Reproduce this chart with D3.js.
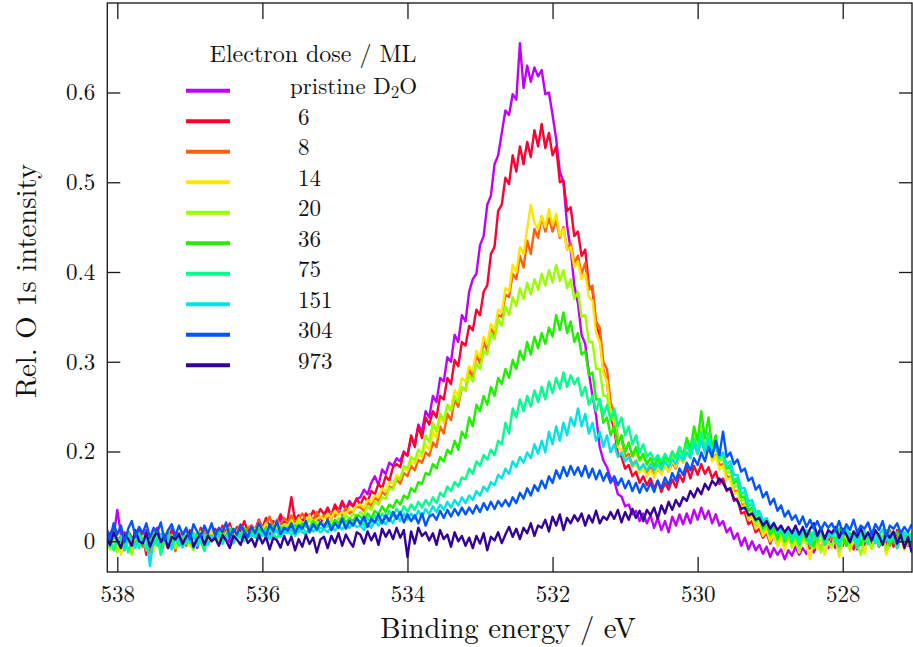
<!DOCTYPE html>
<html>
<head>
<meta charset="utf-8">
<script src="https://cdn.jsdelivr.net/npm/d3@7"></script>
<style>
  html, body { margin: 0; background: #fff; }
  svg { display: block; }
</style>
</head>
<body>
<svg id="chart" width="913" height="647"></svg>
<script>
// O 1s XPS spectra of D2O after increasing electron dose.
// Sampling grid: binding energy from eStart downward in steps of eStep (eV).
const eStart = 538.15, eStep = 0.05;

const doseLabels = ["pristine D2O", "6", "8", "14", "20", "36", "75", "151", "304", "973"];
const doseColors = ["#c000ff", "#ff0033", "#ff6010", "#ffe600", "#99ff00", "#1ff000", "#00ff8c", "#00e4e4", "#0055ff", "#330099"];
const xTicks = [538, 536, 534, 532, 530, 528];
const yTicks = [0, 0.2, 0.3, 0.4, 0.5, 0.6];

const pristine = [
  .020,.004,.012,.070,.015,-.006,.022,.010,-.010,.018,
  .005,.025,-.004,.012,.030,.000,.016,-.012,.020,.008,
  .014,-.008,.026,.006,.018,-.015,.010,.028,.002,.016,
  .022,.008,.030,.012,-.002,.025,.018,.035,.010,.028,
  .030,.018,.045,.022,.038,.015,.040,.028,.050,.025,
  .042,.030,.055,.038,.048,.035,.060,.045,.052,.040,
  .055,.070,.050,.075,.062,.085,.070,.090,.078,.095,
  .098,.115,.105,.130,.145,.125,.160,.150,.175,.168,
  .185,.178,.200,.192,.215,.208,.230,.222,.245,.238,
  .262,.255,.282,.278,.305,.300,.330,.322,.352,.345,
  .378,.392,.398,.430,.440,.475,.485,.520,.530,.555,
  .580,.575,.598,.592,.655,.605,.630,.612,.628,.618,
  .625,.598,.600,.575,.548,.512,.500,.452,.425,.385,
  .365,.330,.320,.288,.262,.240,.205,.180,.165,.140,
  .135,.105,.100,.078,.082,.060,.068,.045,.062,.040,
  .058,.030,.052,.025,.045,.020,.055,.035,.060,.038,
  .062,.040,.070,.048,.075,.050,.068,.040,.060,.035,
  .045,.020,.030,.005,.018,-.010,.008,-.018,.000,-.020,
  -.008,-.028,-.012,-.035,-.015,-.030,-.018,-.040,-.020,-.032,
  -.012,-.030,-.015,-.028,-.008,-.025,-.010,-.020,.000,-.015,
  .002,-.015,.008,-.010,.012,-.005,.010,-.018,.005,-.008,
  .010,-.006,.015,-.012,.004,.018,-.008,.012,-.015,.006,
  .008,-.010,.012
];

const dose6 = [
  -.005,.018,.030,.002,-.012,.020,.008,-.020,.015,.025,
  .010,-.030,.012,.022,-.008,.016,.004,-.015,.028,.010,
  .018,.005,-.010,.025,.012,-.004,.030,.015,.000,.020,
  .028,.012,.035,.018,.040,.010,.032,.022,.045,.020,
  .035,.025,.048,.030,.052,.028,.045,.038,.060,.040,
  .050,.098,.045,.058,.040,.062,.050,.068,.055,.072,
  .060,.075,.058,.082,.068,.090,.072,.085,.078,.095,
  .080,.100,.088,.112,.105,.128,.118,.145,.135,.165,
  .172,.165,.198,.190,.218,.205,.228,.215,.238,.230,
  .245,.238,.262,.258,.282,.275,.302,.295,.322,.318,
  .340,.335,.358,.352,.378,.385,.420,.428,.468,.475,
  .505,.498,.530,.512,.540,.520,.545,.528,.558,.540,
  .565,.538,.555,.530,.540,.500,.502,.468,.472,.440,
  .445,.418,.425,.385,.380,.340,.330,.290,.278,.240,
  .225,.195,.188,.162,.170,.145,.155,.130,.145,.125,
  .140,.118,.135,.110,.130,.115,.138,.120,.148,.132,
  .165,.140,.168,.148,.172,.150,.165,.140,.155,.128,
  .140,.112,.118,.090,.095,.062,.065,.038,.045,.020,
  .028,.008,.020,-.005,.015,-.008,.018,-.002,.025,-.010,
  .010,-.012,.020,.002,-.015,.015,.005,-.020,.012,.000,
  .018,-.005,.008,.025,-.010,.012,-.018,.006,.020,-.004,
  .010,-.015,.016,.002,.022,-.008,.012,-.012,.025,.004,
  .015,-.006,.010
];

const dose8 = [
  .008,-.015,.020,.002,.012,-.020,.015,-.005,.022,.000,
  -.012,.018,-.025,.010,.004,-.018,.016,-.008,.012,-.022,
  .015,-.010,.020,.005,-.015,.018,.008,.025,-.004,.014,
  .020,.006,.028,.015,.032,.010,.025,.038,.018,.030,
  .035,.022,.045,.030,.040,.055,.032,.048,.038,.052,
  .040,.058,.042,.050,.062,.045,.055,.048,.065,.050,
  .058,.048,.065,.055,.070,.058,.075,.062,.068,.078,
  .075,.068,.088,.078,.098,.090,.110,.102,.122,.118,
  .138,.128,.152,.145,.168,.158,.182,.175,.198,.190,
  .210,.205,.228,.220,.242,.235,.258,.250,.272,.268,
  .292,.282,.308,.298,.322,.312,.340,.328,.352,.350,
  .375,.372,.398,.392,.418,.405,.435,.420,.448,.438,
  .462,.445,.460,.445,.458,.438,.450,.425,.432,.410,
  .418,.398,.410,.380,.385,.345,.338,.300,.292,.255,
  .242,.215,.215,.188,.195,.170,.180,.158,.170,.150,
  .165,.148,.162,.150,.172,.155,.175,.162,.188,.175,
  .198,.188,.210,.195,.215,.198,.210,.185,.192,.170,
  .172,.145,.142,.112,.112,.082,.082,.055,.058,.032,
  .038,.018,.028,.008,.018,-.002,.012,-.008,.015,.002,
  -.005,.015,.002,.020,-.012,.010,.000,.018,-.008,.012,
  .005,.022,-.010,.014,.002,-.015,.020,.006,-.006,.016,
  -.002,.018,.008,-.012,.015,.004,.025,-.005,.010,.000,
  .020,.002,.012
];

const dose14 = [
  -.010,.012,-.020,.005,-.030,.010,.002,-.015,.018,-.005,
  .006,-.012,.015,-.022,.004,.010,-.008,.018,-.004,.012,
  -.002,.016,.004,-.012,.020,.008,-.006,.014,.002,.022,
  .012,.025,.004,.018,.030,.008,.022,.015,.028,.012,
  .025,.018,.035,.022,.040,.026,.032,.045,.030,.038,
  .035,.048,.032,.052,.040,.045,.058,.042,.050,.055,
  .048,.062,.052,.068,.058,.065,.060,.072,.068,.080,
  .082,.075,.092,.088,.102,.098,.118,.112,.132,.128,
  .148,.140,.162,.158,.178,.172,.192,.188,.208,.202,
  .222,.215,.238,.232,.252,.248,.268,.262,.282,.278,
  .295,.290,.312,.305,.328,.320,.342,.335,.358,.355,
  .382,.378,.408,.400,.428,.420,.448,.475,.455,.448,
  .462,.450,.470,.452,.465,.440,.448,.425,.428,.405,
  .412,.392,.398,.372,.368,.332,.322,.288,.278,.242,
  .232,.205,.202,.180,.188,.165,.172,.152,.162,.145,
  .158,.142,.165,.148,.170,.155,.180,.165,.190,.175,
  .200,.185,.212,.192,.218,.192,.205,.178,.190,.160,
  .168,.138,.140,.105,.110,.075,.080,.048,.055,.028,
  .038,.012,.025,.000,.015,-.012,.008,-.020,.010,-.015,
  .002,-.025,.010,-.008,-.040,.005,-.018,.012,-.030,-.002,
  -.015,.008,-.035,.000,.015,-.022,.005,-.012,.018,-.028,
  .004,-.018,.012,-.006,.020,-.030,.002,.014,-.010,.008,
  -.020,.010,-.005
];

const dose20 = [
  .000,-.018,.010,-.025,.005,-.012,.015,-.030,.002,-.008,
  .012,-.020,.004,-.010,.018,-.028,.006,-.005,.014,-.015,
  .008,-.012,.016,.000,-.020,.010,.022,-.004,.012,.002,
  .015,.002,.020,.008,.026,-.002,.018,.010,.024,.012,
  .018,.028,.010,.030,.020,.035,.016,.032,.024,.038,
  .028,.040,.025,.045,.032,.038,.050,.034,.044,.040,
  .040,.032,.048,.040,.052,.045,.058,.050,.062,.055,
  .065,.058,.078,.070,.088,.082,.098,.095,.118,.115,
  .142,.138,.168,.162,.188,.180,.202,.195,.218,.210,
  .232,.222,.242,.235,.252,.245,.262,.255,.272,.268,
  .285,.278,.298,.292,.312,.308,.332,.325,.348,.340,
  .362,.352,.372,.362,.382,.370,.388,.375,.392,.380,
  .398,.385,.402,.388,.408,.390,.402,.382,.392,.370,
  .378,.350,.352,.322,.322,.292,.292,.262,.262,.235,
  .238,.212,.218,.198,.210,.188,.198,.178,.190,.170,
  .185,.165,.180,.162,.185,.170,.192,.175,.200,.185,
  .212,.198,.222,.205,.228,.205,.220,.195,.205,.178,
  .185,.152,.155,.120,.125,.090,.095,.062,.068,.040,
  .048,.022,.035,.010,.025,.000,.020,-.008,.015,-.012,
  .010,-.020,.015,-.005,.022,-.015,.008,-.025,.012,-.002,
  -.010,.016,-.022,.006,.012,-.018,.020,-.004,-.030,.010,
  .002,-.015,.018,-.006,.012,-.020,.008,.015,-.012,.004,
  .010,-.008,.014
];

const dose36 = [
  .015,-.010,.022,-.002,.012,-.015,.020,.005,-.008,.018,
  -.004,.014,-.012,.020,.002,-.018,.010,.025,-.006,.012,
  .004,.018,-.008,.012,-.015,.020,.006,-.004,.016,.008,
  .010,.022,.002,.015,.028,.006,.018,.012,.030,.014,
  .020,.012,.028,.018,.030,.022,.034,.020,.032,.026,
  .030,.024,.036,.028,.040,.032,.030,.045,.034,.040,
  .035,.045,.032,.048,.040,.055,.042,.050,.045,.058,
  .055,.045,.062,.052,.068,.060,.078,.065,.082,.075,
  .092,.082,.102,.095,.118,.110,.132,.128,.152,.148,
  .172,.162,.188,.178,.202,.195,.212,.202,.222,.215,
  .238,.228,.252,.245,.262,.252,.272,.262,.282,.275,
  .292,.282,.302,.292,.312,.302,.322,.308,.328,.315,
  .332,.320,.338,.328,.352,.335,.355,.332,.345,.322,
  .332,.308,.312,.285,.288,.258,.258,.232,.238,.218,
  .228,.208,.218,.198,.210,.190,.205,.182,.195,.172,
  .185,.168,.185,.170,.190,.178,.200,.185,.205,.192,
  .215,.202,.228,.212,.245,.215,.238,.205,.218,.188,
  .195,.162,.165,.130,.135,.098,.100,.068,.075,.045,
  .055,.028,.040,.015,.030,.005,.028,.000,.022,-.002,
  .018,-.008,.025,.002,.020,-.012,.015,.030,-.005,.012,
  .020,-.002,.028,.008,-.010,.018,.004,.024,-.008,.014,
  .006,.022,-.004,.016,.000,.025,-.010,.012,.020,.002,
  .015,-.005,.018
];

const dose75 = [
  -.008,.010,-.020,.004,-.012,.016,-.025,.002,.012,-.015,
  .005,-.018,.012,-.006,.018,-.030,.002,.010,-.012,.006,
  -.010,.014,-.004,.020,-.015,.008,.000,-.022,.012,.004,
  .006,-.008,.015,.002,.020,-.005,.012,.018,.000,.016,
  .012,.020,.004,.024,.010,.028,.015,.006,.026,.018,
  .022,.014,.030,.020,.032,.018,.028,.036,.024,.030,
  .028,.038,.025,.040,.032,.045,.035,.042,.038,.048,
  .045,.035,.052,.040,.058,.045,.062,.050,.068,.055,
  .072,.060,.078,.065,.082,.070,.088,.075,.092,.080,
  .098,.085,.108,.100,.122,.112,.132,.122,.142,.138,
  .162,.150,.178,.168,.192,.182,.202,.192,.212,.208,
  .232,.220,.248,.238,.258,.245,.262,.250,.268,.255,
  .272,.258,.278,.265,.282,.270,.288,.272,.285,.275,
  .282,.262,.272,.252,.262,.245,.258,.240,.252,.235,
  .248,.228,.238,.218,.228,.208,.218,.198,.208,.188,
  .198,.180,.192,.178,.195,.180,.198,.185,.205,.190,
  .208,.195,.215,.200,.222,.202,.220,.198,.210,.185,
  .195,.165,.170,.135,.142,.105,.112,.078,.085,.055,
  .065,.038,.050,.025,.040,.015,.030,.005,.025,.002,
  .020,-.006,.015,.025,-.010,.012,.004,.022,-.008,.010,
  .018,.002,-.012,.015,.026,-.004,.010,-.015,.020,.005,
  -.006,.014,.022,-.010,.008,.018,-.002,.012,-.015,.016,
  .004,.020,-.008
];

const dose151 = [
  .010,-.012,.018,-.005,.008,-.020,.012,.002,-.015,.015,
  -.004,.012,-.055,.006,-.010,.016,-.002,.010,-.018,.008,
  .002,-.014,.012,-.004,.018,-.010,.006,.014,-.008,.010,
  .004,.016,-.006,.010,.020,-.002,.014,.006,.022,.008,
  .015,.008,.020,.012,.025,.005,.018,.024,.010,.022,
  .018,.026,.012,.028,.020,.015,.030,.022,.028,.020,
  .028,.020,.032,.024,.035,.026,.038,.030,.040,.032,
  .035,.025,.040,.030,.045,.035,.048,.038,.052,.040,
  .058,.045,.062,.048,.062,.050,.068,.055,.072,.060,
  .078,.065,.082,.070,.088,.075,.092,.080,.098,.085,
  .102,.092,.112,.102,.122,.112,.132,.125,.148,.140,
  .162,.150,.178,.165,.188,.175,.198,.185,.208,.195,
  .212,.198,.222,.208,.228,.212,.232,.218,.238,.228,
  .248,.228,.242,.220,.232,.212,.222,.205,.218,.198,
  .208,.188,.198,.178,.188,.168,.178,.160,.172,.158,
  .172,.158,.172,.160,.178,.165,.182,.172,.192,.180,
  .198,.185,.208,.195,.212,.198,.212,.195,.208,.188,
  .198,.172,.178,.148,.148,.118,.118,.088,.092,.065,
  .068,.045,.052,.032,.042,.022,.032,.015,.028,.012,
  .025,.008,.028,.012,-.002,.022,.010,.030,.005,.018,
  .012,.025,.000,.018,.032,.006,.020,-.005,.015,.024,
  .008,.020,-.004,.015,.026,.002,.018,.010,-.008,.014,
  .020,.006,.012
];

const dose304 = [
  .030,.005,.040,.015,.035,-.002,.028,.045,.010,.032,
  .018,.040,.008,.030,.020,.042,.002,.025,.038,.012,
  .035,.015,.030,.005,.038,.022,.010,.035,.018,.040,
  .012,.030,.020,.042,.008,.028,.015,.036,.022,.010,
  .032,.018,.040,.025,.012,.038,.022,.045,.016,.030,
  .024,.040,.018,.035,.028,.045,.020,.038,.026,.042,
  .032,.048,.025,.040,.030,.050,.028,.045,.035,.052,
  .038,.055,.032,.050,.042,.060,.040,.058,.045,.065,
  .050,.065,.042,.060,.045,.058,.040,.062,.035,.055,
  .060,.048,.068,.052,.070,.055,.072,.058,.075,.060,
  .075,.062,.080,.065,.085,.070,.088,.072,.090,.078,
  .092,.078,.098,.085,.108,.095,.118,.102,.125,.112,
  .135,.118,.145,.130,.158,.140,.165,.145,.168,.148,
  .165,.145,.168,.142,.162,.138,.158,.135,.152,.130,
  .145,.125,.140,.118,.135,.112,.130,.108,.128,.112,
  .130,.110,.135,.118,.142,.125,.152,.135,.162,.148,
  .175,.158,.185,.170,.198,.178,.205,.188,.212,.192,
  .222,.188,.198,.172,.182,.155,.162,.135,.142,.115,
  .125,.098,.110,.082,.095,.068,.080,.055,.068,.048,
  .058,.038,.055,.032,.048,.028,.045,.025,.042,.030,
  .040,.022,.045,.018,.038,.025,.048,.020,.035,.028,
  .042,.015,.038,.025,.045,.012,.035,.028,.040,.018,
  .032,.020,.038
];

const dose973 = [
  .010,-.008,.020,.002,-.015,.015,.005,-.010,.025,.000,
  -.005,.018,-.012,.008,.022,-.002,.012,-.015,.010,.004,
  .015,-.006,.010,.020,-.012,.005,.016,-.008,.012,.000,
  .008,-.010,.014,.002,-.015,.012,.004,-.008,.018,-.004,
  .006,-.012,.015,-.005,.010,-.018,.008,.002,-.014,.012,
  -.008,.010,-.020,.005,-.012,.014,-.006,.008,-.025,.004,
  .010,-.015,.012,-.004,.018,-.010,.015,.000,-.012,.020,
  .015,-.005,.022,.002,.018,-.008,.028,.010,.025,.005,
  .030,.008,.025,-.035,.022,-.005,.030,.012,.020,.002,
  .018,-.008,.025,.005,.015,-.012,.020,.000,.012,-.010,
  .008,-.015,.012,-.005,.018,-.020,.010,.002,.020,-.004,
  .015,.032,.010,.028,.005,.030,.018,.040,.012,.035,
  .030,.048,.022,.055,.035,.060,.025,.052,.040,.058,
  .045,.062,.035,.058,.042,.068,.040,.055,.048,.065,
  .050,.070,.042,.065,.048,.072,.052,.068,.045,.070,
  .058,.075,.050,.080,.062,.088,.070,.092,.078,.098,
  .090,.112,.098,.118,.105,.128,.115,.135,.125,.140,
  .130,.115,.118,.095,.090,.072,.075,.058,.062,.048,
  .052,.035,.045,.028,.040,.025,.035,.020,.032,.018,
  .035,.015,.032,.010,.028,.040,.012,.030,.005,.025,
  .018,.032,.008,.028,.015,-.002,.022,.010,.030,.005,
  .020,.002,.025,.012,-.008,.018,.008,.022,-.005,.015,
  -.015,.010,-.025
];

const seriesValues = [pristine, dose6, dose8, dose14, dose20, dose36, dose75, dose151, dose304, dose973];
// paint order: 973 ML goes beneath the 304 ML trace
const drawOrder = [0, 1, 2, 3, 4, 5, 6, 7, 9, 8];

const plot = { left: 107.3, right: 912, top: 3, bottom: 572 };
const FONT = "Latin Modern Roman";
const svg = d3.select("#chart");

const x = d3.scaleLinear().domain([538.138, 527.045]).range([plot.left, plot.right]);
// the vertical axis is drawn with the spacing of its printed tick marks
const y = d3.scaleLinear().domain([0, 0.2, 0.6]).range([541.3, 451.5, 92.5]);

svg.append("defs").append("clipPath").attr("id", "plotClip")
  .append("rect")
  .attr("x", plot.left).attr("y", plot.top)
  .attr("width", plot.right - plot.left).attr("height", plot.bottom - plot.top);

// spectra
const line = d3.line()
  .x((d, i) => x(eStart - i * eStep))
  .y(d => y(d));

const traces = svg.append("g").attr("clip-path", "url(#plotClip)");
drawOrder.forEach(k => {
  traces.append("path")
    .datum(seriesValues[k])
    .attr("fill", "none")
    .attr("stroke", doseColors[k])
    .attr("stroke-width", 2.4)
    .attr("stroke-linejoin", "round")
    .attr("d", line);
});

// axes
const tickFont = 23;
function styleAxis(g) {
  g.select(".domain").remove();
  g.attr("font-size", tickFont).attr("color", "#1a1a1a");
  g.selectAll(".tick line").attr("stroke-width", 1.3);
  g.selectAll(".tick text").style("font-family", FONT).attr("fill", "#111");
}

svg.append("g").attr("transform", `translate(0,${plot.bottom})`)
  .call(d3.axisBottom(x).tickValues(xTicks).tickSize(-15).tickSizeOuter(0).tickPadding(13.5).tickFormat(d3.format("d")))
  .call(styleAxis);
svg.append("g").attr("transform", `translate(0,${plot.top})`)
  .call(d3.axisTop(x).tickValues(xTicks).tickSize(-16).tickSizeOuter(0).tickFormat(""))
  .call(styleAxis);
svg.append("g").attr("transform", `translate(${plot.left},0)`)
  .call(d3.axisLeft(y).tickValues(yTicks).tickSize(-13).tickSizeOuter(0).tickPadding(12).tickFormat(d => d === 0 ? "0" : d3.format(".1f")(d)))
  .call(styleAxis);
svg.append("g").attr("transform", `translate(${plot.right},0)`)
  .call(d3.axisRight(y).tickValues(yTicks).tickSize(-13).tickSizeOuter(0).tickFormat(""))
  .call(styleAxis);

// frame
svg.append("rect")
  .attr("x", plot.left).attr("y", plot.top)
  .attr("width", plot.right - plot.left).attr("height", plot.bottom - plot.top)
  .attr("fill", "none").attr("stroke", "#222").attr("stroke-width", 1.4);

// axis titles
svg.append("text")
  .attr("x", 508).attr("y", 638)
  .attr("text-anchor", "middle")
  .style("font-family", FONT)
  .attr("font-size", 28.7).attr("fill", "#111")
  .text("Binding energy / eV");

svg.append("text")
  .attr("transform", "translate(36,281) rotate(-90)")
  .attr("text-anchor", "middle")
  .style("font-family", FONT)
  .attr("font-size", 28.7).attr("fill", "#111")
  .text("Rel. O 1s intensity");

// legend
const legend = svg.append("g").attr("fill", "#111");
legend.append("text")
  .attr("x", 313).attr("y", 62)
  .attr("text-anchor", "middle")
  .style("font-family", FONT)
  .attr("font-size", 24)
  .text("Electron dose / ML");

doseLabels.forEach((label, i) => {
  const ly = 90.7 + i * 30.5;
  legend.append("line")
    .attr("x1", 186).attr("x2", 230)
    .attr("y1", ly).attr("y2", ly)
    .attr("stroke", doseColors[i]).attr("stroke-width", 4);
  const t = legend.append("text")
    .attr("x", i === 0 ? 290 : 298)
    .attr("y", ly + 3.5)
    .style("font-family", FONT)
    .attr("font-size", 23);
  const m = label.match(/^(.*D)(\d)(O)$/);
  if (m) {
    t.append("tspan").text(m[1]);
    t.append("tspan").attr("font-size", 17).attr("dy", 4).text(m[2]);
    t.append("tspan").attr("dy", -4).text(m[3]);
  } else {
    t.text(label);
  }
});
</script>
</body>
</html>
